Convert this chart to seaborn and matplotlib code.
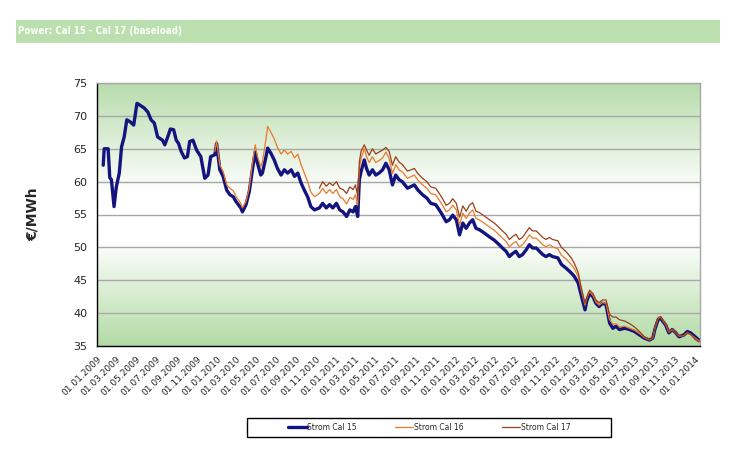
import numpy as np
import pandas as pd
import matplotlib
matplotlib.use("Agg")
from matplotlib import pyplot as plt
import matplotlib.dates as mdates
from matplotlib.colors import LinearSegmentedColormap
from matplotlib.patches import Rectangle
from matplotlib import font_manager
import seaborn as sns

# Werte (ca. alle 10 Tage)
dates = ['2009-01-20', '2009-01-23', '2009-02-04', '2009-02-09', '2009-02-14', '2009-02-22', '2009-03-01',
         '2009-03-10', '2009-03-17', '2009-03-25', '2009-04-02', '2009-04-12', '2009-04-23', '2009-05-03',
         '2009-05-10', '2009-05-25', '2009-06-05', '2009-06-15', '2009-06-25', '2009-07-05', '2009-07-20',
         '2009-07-27', '2009-08-05', '2009-08-13', '2009-08-23', '2009-08-31', '2009-09-07', '2009-09-15',
         '2009-09-25', '2009-10-04', '2009-10-11', '2009-10-21', '2009-11-01', '2009-11-14', '2009-11-26',
         '2009-12-06', '2009-12-14', '2009-12-27', '2010-01-01', '2010-01-11', '2010-01-21', '2010-02-01',
         '2010-02-11', '2010-02-21', '2010-03-01', '2010-03-16', '2010-03-21', '2010-04-01', '2010-04-11',
         '2010-04-21', '2010-04-29', '2010-05-06', '2010-05-16', '2010-05-21', '2010-06-01', '2010-06-06',
         '2010-06-16', '2010-06-26', '2010-07-06', '2010-07-17', '2010-07-27', '2010-08-06', '2010-08-17',
         '2010-08-27', '2010-09-06', '2010-09-16', '2010-09-26', '2010-10-06', '2010-10-16', '2010-10-27',
         '2010-11-11', '2010-11-21', '2010-12-02', '2010-12-12', '2010-12-22', '2011-01-02', '2011-01-12',
         '2011-01-22', '2011-02-02', '2011-02-12', '2011-02-22', '2011-03-01', '2011-03-08', '2011-03-13',
         '2011-03-18', '2011-03-28', '2011-04-04', '2011-04-12', '2011-04-22', '2011-05-02', '2011-05-12',
         '2011-05-23', '2011-06-02', '2011-06-12', '2011-06-22', '2011-07-02', '2011-07-12', '2011-07-22',
         '2011-08-07', '2011-08-28', '2011-09-08', '2011-09-22', '2011-10-05', '2011-10-17', '2011-11-01',
         '2011-11-12', '2011-11-22', '2011-12-03', '2011-12-13', '2011-12-23', '2012-01-03', '2012-01-13',
         '2012-01-23', '2012-02-02', '2012-02-12', '2012-02-22', '2012-03-03', '2012-03-13', '2012-03-28',
         '2012-04-13', '2012-04-28', '2012-05-13', '2012-05-23', '2012-06-03', '2012-06-13', '2012-06-24',
         '2012-07-03', '2012-07-13', '2012-07-23', '2012-08-03', '2012-08-13', '2012-08-23', '2012-09-03',
         '2012-09-13', '2012-09-23', '2012-10-03', '2012-10-13', '2012-10-23', '2012-11-08', '2012-11-19',
         '2012-12-04', '2012-12-19', '2012-12-28', '2013-01-09', '2013-01-19', '2013-01-30', '2013-02-04',
         '2013-02-13', '2013-02-23', '2013-03-04', '2013-03-14', '2013-03-24', '2013-04-04', '2013-04-15',
         '2013-04-25', '2013-05-05', '2013-05-15', '2013-05-31', '2013-06-15', '2013-06-30', '2013-07-15',
         '2013-07-30', '2013-08-15', '2013-08-25', '2013-08-31', '2013-09-10', '2013-09-18', '2013-09-25',
         '2013-10-03', '2013-10-13', '2013-10-23', '2013-11-03', '2013-11-13', '2013-11-28', '2013-12-08',
         '2013-12-18', '2014-01-01', '2014-01-13']

cal15 = [62.5, 65.0, 65.0, 60.6, 60.3, 56.2, 59.2,
         61.3, 65.3, 66.8, 69.4, 69.1, 68.6, 71.9,
         71.7, 71.2, 70.6, 69.4, 68.9, 66.8, 66.3,
         65.6, 66.8, 68.0, 67.9, 66.3, 65.8, 64.6,
         63.6, 63.8, 66.1, 66.3, 64.8, 63.8, 60.5,
         61.0, 63.8, 64.1, 65.8, 61.8, 60.8, 58.7,
         58.0, 57.7, 57.0, 56.0, 55.4, 56.5, 58.5,
         62.0, 64.5, 62.8, 61.0, 61.3, 63.8, 65.1,
         64.3, 63.3, 62.0, 61.0, 61.8, 61.3, 61.8,
         60.8, 61.3, 59.8, 58.7, 57.7, 56.2, 55.7,
         56.0, 56.7, 56.0, 56.5, 56.0, 56.7, 55.7,
         55.4, 54.7, 55.7, 55.4, 56.2, 54.7, 60.3,
         61.5, 63.3, 62.0, 61.0, 61.8, 61.0, 61.3,
         61.8, 62.8, 61.8, 59.5, 61.0, 60.3, 60.0,
         59.0, 59.5, 58.7, 58.0, 57.5, 56.7, 56.5,
         55.7, 54.9, 53.9, 54.2, 54.9, 54.2, 51.9,
         53.7, 52.9, 53.7, 54.2, 52.9, 52.7, 52.2,
         51.6, 51.1, 50.4, 49.9, 49.4, 48.6, 49.1,
         49.4, 48.6, 48.9, 49.6, 50.4, 49.9, 49.9,
         49.4, 48.9, 48.6, 48.9, 48.6, 48.4, 47.4,
         46.8, 46.1, 45.6, 44.6, 42.6, 40.5, 41.8,
         43.0, 42.5, 41.5, 41.0, 41.5, 41.3, 38.5,
         37.7, 38.0, 37.5, 37.7, 37.5, 37.2, 36.7,
         36.2, 35.9, 36.2, 37.5, 39.0, 39.2, 38.7,
         38.2, 37.0, 37.5, 37.0, 36.4, 36.7, 37.2,
         37.0, 36.4, 35.9]

cal16_dates = dates[dates.index('2009-12-27'):]
cal16 = [64.6, 66.2, 62.5, 61.6, 59.5,
         59.0, 58.6, 57.8, 56.7, 56.0, 57.0, 59.0,
         63.0, 65.6, 63.8, 62.3, 63.0, 66.5, 68.4,
         67.5, 66.5, 65.2, 64.2, 64.8, 64.2, 64.6,
         63.6, 64.2, 62.6, 61.3, 60.0, 58.4, 57.7,
         58.2, 59.0, 58.2, 58.8, 58.2, 58.8, 57.7,
         57.4, 56.6, 57.6, 57.3, 58.0, 56.4, 62.0,
         63.5, 65.0, 63.8, 62.9, 63.8, 62.9, 63.2,
         63.6, 64.5, 63.5, 61.2, 62.6, 61.8, 61.5,
         60.5, 61.0, 60.2, 59.5, 59.0, 58.2, 58.0,
         57.2, 56.4, 55.4, 55.7, 56.4, 55.7, 53.4,
         55.2, 54.4, 55.2, 55.7, 54.4, 54.2, 53.7,
         53.1, 52.6, 51.9, 51.4, 50.9, 50.1, 50.6,
         50.9, 50.1, 50.4, 51.1, 51.9, 51.4, 51.4,
         50.9, 50.4, 50.1, 50.4, 50.1, 49.8, 48.8,
         48.2, 47.4, 46.8, 45.6, 43.4, 41.2, 42.2,
         43.3, 42.7, 41.7, 41.2, 41.6, 41.5, 39.0,
         38.3, 38.4, 37.9, 38.0, 37.7, 37.4, 36.9,
         36.3, 35.9, 36.2, 37.6, 39.2, 39.4, 38.8,
         38.3, 37.1, 37.5, 37.0, 36.5, 36.6, 37.0,
         36.8, 36.2, 35.8]

cal17_dates = dates[dates.index('2010-11-11'):]
cal17 = [59.0, 60.0, 59.3, 59.8, 59.4, 60.0, 59.0,
         58.8, 58.2, 59.2, 58.8, 59.5, 57.8, 63.0,
         64.6, 65.6, 64.8, 64.0, 65.0, 64.2, 64.5,
         64.8, 65.2, 64.6, 62.5, 63.8, 63.0, 62.6,
         61.6, 62.0, 61.2, 60.5, 60.0, 59.2, 59.0,
         58.2, 57.4, 56.4, 56.7, 57.4, 56.7, 54.6,
         56.3, 55.5, 56.4, 56.8, 55.5, 55.3, 54.8,
         54.2, 53.7, 53.0, 52.5, 52.0, 51.2, 51.7,
         52.0, 51.2, 51.5, 52.3, 53.0, 52.5, 52.5,
         52.0, 51.5, 51.2, 51.5, 51.2, 51.0, 50.0,
         49.3, 48.4, 47.6, 46.2, 43.8, 41.5, 42.4,
         43.5, 43.0, 42.0, 41.6, 42.0, 42.0, 39.8,
         39.4, 39.4, 39.0, 38.8, 38.4, 37.9, 37.2,
         36.4, 36.0, 36.3, 37.7, 39.3, 39.5, 38.9,
         38.4, 37.2, 37.6, 37.0, 36.6, 36.5, 36.9,
         36.8, 36.0, 35.6]

series_labels = ['Strom Cal 15', 'Strom Cal 16', 'Strom Cal 17']
series_colors = ['#14147e', '#ea7a2a', '#9a3f16']
yticks = [35, 40, 45, 50, 55, 60, 65, 70, 75]

df15 = pd.DataFrame({'Datum': pd.to_datetime(dates), 'Preis': cal15})
df16 = pd.DataFrame({'Datum': pd.to_datetime(cal16_dates), 'Preis': cal16})
df17 = pd.DataFrame({'Datum': pd.to_datetime(cal17_dates), 'Preis': cal17})

sns.set_style("white")
plt.rcParams['font.family'] = ['DejaVu Sans']

fig = plt.figure(figsize=(7.33, 4.51), dpi=100)
rect = [97 / 733, 1 - 346 / 451, 603 / 733, 263 / 451]

# Hintergrund mit Farbverlauf
bg = fig.add_axes(rect, zorder=0)
cmap = LinearSegmentedColormap.from_list('bg', [(0, '#b2daa4'), (0.40, '#ffffff'), (0.58, '#ffffff'), (1, '#b8dcac')])
bg.imshow(np.linspace(0, 1, 256).reshape(-1, 1), aspect='auto', cmap=cmap, origin='lower', extent=[0, 1, 0, 1])
bg.axis('off')

ax = fig.add_axes(rect, zorder=1)
ax.set_facecolor('none')

sns.lineplot(data=df15, x='Datum', y='Preis', ax=ax, color=series_colors[0], linewidth=2.4, label=series_labels[0])
sns.lineplot(data=df16, x='Datum', y='Preis', ax=ax, color=series_colors[1], linewidth=0.9, label=series_labels[1])
sns.lineplot(data=df17, x='Datum', y='Preis', ax=ax, color=series_colors[2], linewidth=0.9, label=series_labels[2])

ax.set_xlim(pd.Timestamp('2009-01-01'), pd.Timestamp('2014-01-16'))
ax.set_ylim(35, 75)
ax.set_yticks(yticks)
ax.xaxis.set_major_locator(mdates.MonthLocator(bymonth=[1, 3, 5, 7, 9, 11]))
ax.xaxis.set_major_formatter(mdates.DateFormatter('%d.%m.%Y'))
ax.yaxis.grid(True, color='#a8a8a8', linewidth=1)
ax.set_axisbelow(True)

ax.tick_params(axis='y', direction='out', length=4, width=1, color='black', labelsize=8, pad=3)
ax.tick_params(axis='x', direction='out', length=4, width=1, color='black', labelsize=6.5, pad=2)
for lab in ax.get_xticklabels():
    lab.set_rotation(45)
    lab.set_ha('right')
    lab.set_va('top')
    lab.set_rotation_mode('anchor')

for s in ['left', 'bottom']:
    ax.spines[s].set_color('black')
    ax.spines[s].set_linewidth(1)
for s in ['top', 'right']:
    ax.spines[s].set_color('#a8a8a8')
    ax.spines[s].set_linewidth(1)

ax.set_xlabel('')
ax.set_ylabel('€/MWh', fontsize=10, fontweight='bold')
ax.yaxis.set_label_coords(-0.095, 0.5)

handles, labels = ax.get_legend_handles_labels()
ax.get_legend().remove()
fig.legend(handles, labels, loc='center', bbox_to_anchor=(429.5 / 733, 1 - 427.5 / 451), ncol=3,
           frameon=False, fontsize=5.5, handlelength=2.4, handletextpad=0.1, columnspacing=5.0)
fig.patches.append(Rectangle((247 / 733, 1 - 437 / 451), 364 / 733, 19 / 451, transform=fig.transFigure,
                             fill=False, edgecolor='black', linewidth=1))

# Titelbalken
fig.patches.append(Rectangle((16 / 733, 1 - 43 / 451), 704 / 733, 23 / 451, transform=fig.transFigure,
                             facecolor='#bcdfb0', edgecolor='none'))
title_font = font_manager.FontProperties(family='DejaVu Sans', stretch='condensed', weight='bold', size=7)
fig.text(18 / 733, 1 - 31.5 / 451, 'Power: Cal 15 - Cal 17 (baseload)', color='#fbfdfa',
         fontproperties=title_font, va='center', ha='left')

fig.savefig('out.png', dpi=100)
